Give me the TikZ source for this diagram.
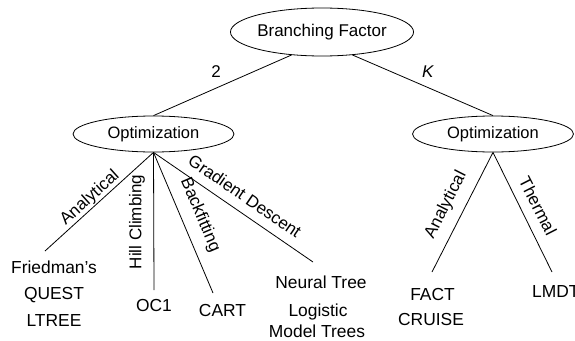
\documentclass[tikz,border=0pt]{standalone}
\usepackage{fontspec}
\setmainfont{Liberation Sans}
\usetikzlibrary{shapes.geometric}
\begin{document}
\begin{tikzpicture}[x=1pt,y=-1pt,
  ell/.style={draw, ellipse, inner sep=0pt, line width=0.8pt},
  conn/.style={line width=0.8pt},
  leaf/.style={anchor=base, inner sep=0pt, font=\fontsize{17.4}{20}\selectfont},
  elab/.style={inner sep=0pt, font=\fontsize{17}{20}\selectfont}]
\useasboundingbox (0,0) rectangle (575,340);
% ellipses
\node[ell, minimum width=180pt, minimum height=48pt, font=\fontsize{17}{20}\selectfont] (root) at (322,32) {Branching Factor};
\node[ell, minimum width=161pt, minimum height=36pt, font=\fontsize{16.5}{20}\selectfont] (opt1) at (153.5,134) {Optimization};
\node[ell, minimum width=161pt, minimum height=36pt, font=\fontsize{16.5}{20}\selectfont] (opt2) at (493,134) {Optimization};
% top connectors
\draw[conn] (root.217) -- (opt1.north);
\draw[conn] (root.323) -- (opt2.north);
\node[elab] (l2) at (216,72) {2};
\node[elab] (lk) at (428,72) {\textit{K}};
% leaf line ends
\coordinate (e1) at (45,251);
\coordinate (e2) at (154,290);
\coordinate (e3) at (213,293);
\coordinate (e4) at (313,262);
\coordinate (e5) at (432,272);
\coordinate (e6) at (552,272);
\draw[conn] (opt1.south) -- (e1);
\draw[conn] (opt1.south) -- (e2);
\draw[conn] (opt1.south) -- (e3);
\draw[conn] (opt1.south) -- (e4);
\draw[conn] (opt2.south) -- (e5);
\draw[conn] (opt2.south) -- (e6);
% edge labels
\node[elab, rotate=42] (la1) at (90,198) {Analytical};
\node[elab, rotate=90] (la2) at (137,222) {Hill Climbing};
\node[elab, rotate=-67] (la3) at (200,215) {Backfitting};
\node[elab, rotate=-34.4] (la4) at (245,196) {Gradient Descent};
\node[elab, rotate=63] (la5) at (446,205) {Analytical};
\node[elab, rotate=-63] (la6) at (538,206) {Thermal};
% leaves
\node[leaf] (friedman) at (54,273) {Friedman's};
\node[leaf] (quest) at (54,299) {QUEST};
\node[leaf] (ltree) at (54,326) {LTREE};
\node[leaf] (oc1) at (154,311) {OC1};
\node[leaf] (cart) at (222.5,316) {CART};
\node[leaf] (neural) at (321,288) {Neural Tree};
\node[leaf] (logistic) at (318,316) {Logistic};
\node[leaf] (model) at (317,337) {Model Trees};
\node[leaf] (fact) at (432.5,300) {FACT};
\node[leaf] (cruise) at (431,325) {CRUISE};
\node[leaf, anchor=base west] (lmdt) at (532,297) {LMDT};
\end{tikzpicture}
\end{document}
